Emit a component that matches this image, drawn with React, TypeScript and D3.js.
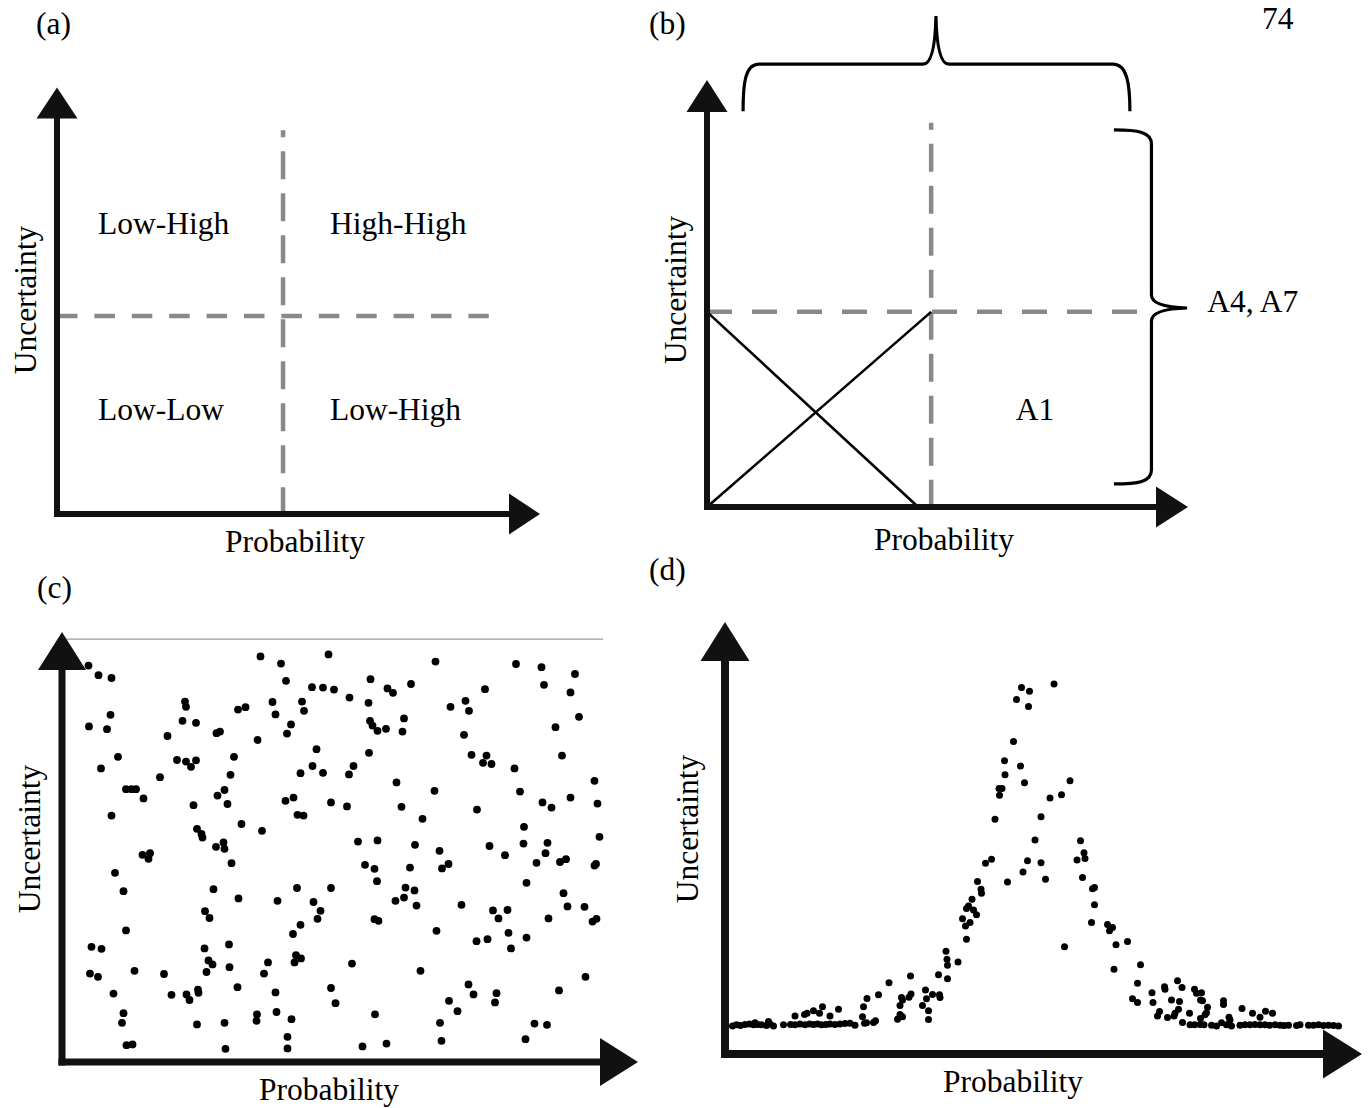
import * as d3 from 'd3'
import { useEffect, useRef } from 'react'

const W = 1368
const H = 1108
const FONT = '"Liberation Serif", "Times New Roman", Times, serif'
const FONT_SIZE = 31.5
const INK = '#111'
const DASH = '#898989'

// (a) quadrant split, axis units 0..10
const quadSplitA = { x: 4.68, y: 4.64, top: 9.0, right: 8.94 }
const quadLabels = [
  { text: 'Low-High', col: 0, row: 0 },
  { text: 'High-High', col: 1, row: 0 },
  { text: 'Low-Low', col: 0, row: 1 },
  { text: 'Low-High', col: 1, row: 1 },
]

// (b) quadrant split + crossing lines
const quadSplitB = { x: 4.66, y: 4.57, top: 9.0, right: 9.13 }
const crossLines: [number, number, number, number][] = [
  [0, 4.57, 4.39, 0],
  [0, 0, 4.66, 4.57],
]

// (c) uniform scatter [probability, uncertainty]
const uniformPoints: [number, number][] = [
  [5.3, 99.1], [7.3, 96.7], [9.9, 96.0], [9.7, 86.8], [5.4, 83.9], [9.0, 83.2], [11.2, 76.3], [7.8, 73.4],
  [12.8, 68.2], [13.9, 68.2], [14.8, 68.2], [16.3, 65.9], [9.9, 61.6], [19.6, 71.2], [21.1, 81.5], [24.6, 90.1],
  [24.8, 88.8], [24.1, 85.3], [26.8, 84.8], [23.0, 75.5], [24.8, 75.1], [25.8, 73.8], [26.8, 75.4], [26.3, 64.2],
  [27.0, 58.3], [27.9, 57.0], [28.1, 56.1], [30.8, 53.8], [32.3, 54.9], [32.5, 53.3], [30.9, 82.2], [31.6, 82.6],
  [34.4, 76.3], [33.7, 71.8], [32.5, 68.0], [31.1, 66.6], [33.1, 64.5], [35.9, 59.5], [40.0, 57.8], [35.2, 88.1],
  [36.7, 88.7], [39.1, 80.5], [39.7, 101.4], [43.8, 99.6], [44.8, 95.3], [42.1, 90.0], [42.7, 86.9], [45.8, 84.4],
  [45.0, 82.1], [48.0, 90.1], [48.4, 87.8], [50.0, 93.7], [52.2, 93.6], [53.3, 101.9], [50.9, 78.2], [50.1, 74.0],
  [47.7, 72.2], [52.2, 72.3], [44.7, 65.3], [46.3, 66.1], [47.1, 61.8], [48.3, 61.6], [53.8, 64.9],
  [54.4, 93.1], [57.5, 91.1], [61.7, 95.7], [61.3, 89.8], [65.1, 93.4], [66.2, 92.3], [69.8, 94.5], [74.7, 100.1],
  [61.6, 85.3], [62.1, 84.1], [63.1, 82.8], [64.8, 83.3], [68.4, 85.9], [68.1, 82.6], [61.4, 77.3], [58.3, 74.0],
  [57.4, 71.9], [66.9, 69.9], [74.5, 67.8], [57.0, 63.9], [67.9, 63.8], [72.1, 60.8], [59.2, 55.1], [63.1, 55.4],
  [70.6, 54.3], [75.5, 52.8], [77.7, 88.8], [80.7, 90.3], [81.4, 87.8], [84.6, 93.2], [80.4, 81.8], [81.9, 76.8],
  [84.9, 76.6], [84.2, 74.8], [85.9, 74.5], [90.5, 73.4], [83.0, 63.1], [85.5, 54.0], [90.8, 99.5], [95.9, 98.7],
  [96.4, 94.3], [102.6, 97.0], [101.7, 92.4], [103.4, 86.3], [98.7, 83.7], [100.0, 76.6], [91.6, 67.6], [96.1, 64.9],
  [97.9, 63.6], [101.7, 66.1], [106.5, 70.3], [107.1, 64.6], [92.4, 58.8], [92.3, 54.6], [97.1, 54.8], [107.5, 56.3],
  [16.1, 51.8], [17.6, 52.2], [17.3, 50.8], [33.9, 49.7], [10.6, 47.3], [12.3, 42.7], [30.3, 43.2], [35.3, 40.9],
  [43.1, 40.3], [47.0, 43.5], [50.3, 40.0], [51.7, 37.8], [51.1, 35.8], [47.7, 34.3], [46.2, 32.0], [53.8, 43.5],
  [28.6, 37.7], [29.5, 36.0], [12.8, 32.9], [5.9, 28.8], [7.9, 28.3], [28.5, 28.4], [33.4, 29.4], [29.3, 25.4],
  [30.1, 24.4], [28.9, 22.5], [33.5, 23.7], [46.8, 26.7], [47.8, 25.9], [46.5, 24.9], [41.2, 24.9], [40.4, 22.1],
  [5.6, 22.1], [7.2, 21.3], [14.5, 22.8], [20.4, 22.0], [10.3, 17.1], [21.9, 16.8], [24.9, 16.9], [25.5, 15.5],
  [27.2, 18.1], [27.3, 17.3], [35.1, 18.7], [42.7, 17.4], [12.3, 12.2], [12.0, 9.8], [27.0, 9.4], [32.5, 9.8],
  [39.0, 11.9], [38.9, 10.3], [42.9, 12.5], [45.9, 10.7], [45.1, 6.3], [45.1, 3.4], [12.9, 4.2], [14.1, 4.4],
  [32.7, 3.3], [53.8, 18.5],
  [60.6, 49.3], [62.5, 48.3], [69.6, 48.6], [76.0, 48.4], [77.3, 49.5], [88.6, 51.7], [94.9, 49.8], [96.7, 52.2],
  [99.6, 50.0], [100.8, 50.7], [106.5, 49.1], [106.8, 49.5], [63.0, 45.2], [68.7, 43.6], [70.5, 42.9], [68.4, 41.1],
  [66.7, 40.3], [70.9, 39.1], [79.9, 39.3], [92.9, 44.8], [100.3, 42.2], [101.1, 38.9], [104.5, 38.8], [86.2, 37.9],
  [89.1, 38.0], [87.3, 35.9], [97.3, 35.9], [106.1, 35.1], [106.9, 35.8], [62.5, 35.7], [63.3, 35.3], [74.9, 32.8],
  [82.9, 30.2], [85.1, 30.7], [89.3, 32.3], [92.9, 31.1], [89.8, 28.4], [58.0, 24.6], [71.7, 22.8], [54.7, 14.7],
  [81.3, 19.4], [82.3, 16.9], [86.9, 17.2], [86.6, 14.9], [77.4, 15.3], [79.1, 12.7], [99.4, 17.9], [104.7, 21.3],
  [62.6, 11.9], [75.6, 9.8], [94.5, 9.6], [97.0, 9.3], [60.1, 3.9], [64.9, 4.6], [75.9, 5.3], [92.7, 5.7],
]

// (d) peaked scatter [probability, uncertainty]
const peakPoints: [number, number][] = [
  [59.3, 91.6], [60.9, 90.7], [58.3, 88.6], [60.7, 86.9], [65.8, 92.5], [57.7, 78.1], [55.9, 73.3], [59.1, 72.0],
  [56.0, 69.8], [59.9, 67.8], [54.8, 66.4], [55.4, 66.4], [54.9, 64.7], [54.0, 58.7], [63.2, 59.3], [62.0, 53.5],
  [52.1, 47.7], [53.3, 48.7], [60.5, 48.3], [63.2, 47.8], [59.6, 45.5], [69.0, 68.3], [67.3, 64.8], [65.0, 64.0],
  [71.1, 53.3], [71.8, 50.3], [72.0, 48.9], [70.4, 48.5], [56.5, 43.0], [50.5, 43.1], [51.2, 41.2], [51.3, 40.2],
  [49.4, 38.7], [48.3, 36.4], [48.7, 37.0], [49.7, 36.0], [50.3, 34.8], [47.5, 33.8], [49.0, 32.9], [48.1, 32.0],
  [48.3, 28.7], [44.2, 25.7], [44.4, 23.7], [44.5, 22.2], [46.6, 23.0], [42.7, 19.8], [44.5, 18.8], [37.1, 19.5],
  [32.8, 17.8], [40.1, 16.0], [37.2, 15.0], [36.8, 14.2], [35.3, 14.1], [35.5, 13.5], [41.5, 14.9], [42.9, 14.8],
  [43.0, 14.1], [40.3, 13.8], [39.5, 12.1], [40.7, 10.8], [40.7, 8.6], [35.0, 12.1], [35.0, 9.9], [35.5, 9.3],
  [34.5, 8.7], [30.7, 14.8], [28.4, 13.9], [27.7, 11.8], [27.5, 9.3], [27.9, 7.7], [28.3, 7.8], [29.7, 7.9],
  [30.1, 8.3], [22.7, 11.2], [21.0, 9.5], [19.5, 11.8], [18.9, 10.2], [17.7, 10.8], [16.4, 10.2], [15.9, 9.9],
  [14.0, 9.5],
  [64.1, 43.7], [71.5, 44.1], [73.5, 41.3], [73.9, 41.6], [73.9, 37.3], [73.3, 32.9], [76.5, 32.4], [77.5, 31.6],
  [76.9, 30.8], [67.9, 26.8], [78.2, 27.3], [80.5, 28.1], [77.8, 21.2], [83.1, 22.3], [82.5, 17.7], [81.5, 13.8],
  [82.5, 12.9], [85.4, 15.3], [85.6, 12.9], [87.9, 16.8], [88.0, 16.2], [90.5, 18.3], [91.4, 16.6], [89.3, 13.5],
  [90.9, 13.1], [90.7, 11.2], [86.9, 10.6], [86.5, 9.5], [88.5, 9.1], [89.8, 9.5], [90.0, 10.2], [92.9, 10.2],
  [91.5, 7.9], [93.9, 16.2], [94.3, 15.2], [95.3, 15.3], [95.1, 13.5], [95.5, 13.3], [96.5, 11.7], [96.3, 10.3],
  [96.0, 9.8], [95.1, 8.9], [99.7, 13.3], [99.7, 12.4], [103.4, 11.4], [105.5, 10.2], [108.1, 10.7], [109.5, 10.2],
  [107.0, 9.2], [100.8, 9.2], [101.0, 8.5],
  [1.5, 7.0], [2.3, 7.3], [3.1, 7.1], [4.0, 7.4], [4.9, 7.5], [5.7, 7.3], [6.0, 7.8], [6.5, 7.4], [7.3, 7.3],
  [8.3, 7.1], [8.7, 8.1], [9.0, 7.5], [9.7, 7.0],
  [11.7, 7.3], [13.1, 7.4], [14.0, 7.3], [15.0, 7.5], [16.0, 7.3], [16.9, 7.5], [17.7, 7.4], [18.5, 7.5],
  [19.3, 7.3], [20.2, 7.4], [21.0, 7.5], [22.0, 7.4], [23.0, 7.5], [24.0, 7.6], [25.0, 7.7], [26.0, 7.2],
  [93.0, 7.3], [93.9, 7.3], [95.0, 7.4], [95.8, 7.3], [97.3, 7.2], [98.3, 7.0], [99.3, 7.8], [100.3, 7.3],
  [101.3, 7.0], [103.0, 7.2], [104.0, 7.3], [105.0, 7.3], [106.0, 7.4], [107.0, 7.3], [108.0, 7.3], [108.9, 7.2],
  [110.0, 7.3], [111.0, 7.2], [111.8, 7.1], [112.7, 7.2], [114.3, 7.1], [115.0, 7.3], [116.7, 7.2], [117.7, 7.2],
  [118.7, 7.3], [119.7, 7.1], [120.7, 7.2], [121.7, 7.1], [122.7, 7.0],
]

type Scale = d3.ScaleLinear<number, number>
type Sel = d3.Selection<SVGGElement, unknown, null, undefined>

interface AxisStyle {
  stroke: number
  len: number
  half: number
}

function drawAxes(g: Sel, x: Scale, y: Scale, s: AxisStyle) {
  const [x0, xTip] = x.range()
  const [y0, yTip] = y.range()
  g.append('line')
    .attr('x1', x0).attr('y1', y0 + s.stroke / 2)
    .attr('x2', x0).attr('y2', yTip + s.len - 1)
    .attr('stroke', INK).attr('stroke-width', s.stroke)
  g.append('line')
    .attr('x1', x0 - s.stroke / 2).attr('y1', y0)
    .attr('x2', xTip - s.len + 1).attr('y2', y0)
    .attr('stroke', INK).attr('stroke-width', s.stroke)
  g.append('path')
    .attr('d', `M${x0},${yTip}L${x0 + s.half},${yTip + s.len}L${x0 - s.half},${yTip + s.len}Z`)
    .attr('fill', INK)
  g.append('path')
    .attr('d', `M${xTip},${y0}L${xTip - s.len},${y0 - s.half}L${xTip - s.len},${y0 + s.half}Z`)
    .attr('fill', INK)
}

function label(g: Sel, text: string, x: number, y: number, anchor = 'start') {
  return g.append('text')
    .attr('x', x).attr('y', y)
    .attr('text-anchor', anchor)
    .attr('font-family', FONT)
    .attr('font-size', FONT_SIZE)
    .attr('fill', '#000')
    .text(text)
}

function vLabel(g: Sel, text: string, x: number, y: number) {
  g.append('text')
    .attr('transform', `translate(${x},${y}) rotate(-90)`)
    .attr('text-anchor', 'middle')
    .attr('font-family', FONT)
    .attr('font-size', FONT_SIZE)
    .attr('fill', '#000')
    .text(text)
}

function quadDashes(g: Sel, x: Scale, y: Scale, q: typeof quadSplitA, hDash: string) {
  g.append('line')
    .attr('x1', x(0)).attr('x2', x(q.right))
    .attr('y1', y(q.y)).attr('y2', y(q.y))
    .attr('stroke', DASH).attr('stroke-width', 4.5)
    .attr('stroke-dasharray', hDash)
  g.append('line')
    .attr('x1', x(q.x)).attr('x2', x(q.x))
    .attr('y1', y(q.top)).attr('y2', y(0.07))
    .attr('stroke', DASH).attr('stroke-width', 4.5)
    .attr('stroke-dasharray', '28 14')
    .attr('stroke-dashoffset', 21)
}

export default function App() {
  const svgRef = useRef<SVGSVGElement>(null)

  useEffect(() => {
    document.body.style.margin = '0'
    if (!svgRef.current) return
    const svg = d3.select(svgRef.current)
    svg.selectAll('*').remove()

    // ---------- (a) ----------
    const gA = svg.append('g')
    const xA = d3.scaleLinear().domain([0, 10]).range([57, 540])
    const yA = d3.scaleLinear().domain([0, 10]).range([514, 87.5])
    quadDashes(gA, xA, yA, quadSplitA, '20.5 16.9')
    drawAxes(gA, xA, yA, { stroke: 6, len: 31, half: 20.5 })
    const labelX = [0.85, 5.65]
    const labelY = [6.56, 2.2]
    quadLabels.forEach(d => label(gA, d.text, xA(labelX[d.col]), yA(labelY[d.row])))
    label(gA, '(a)', 36, 34)
    label(gA, 'Probability', 225, 552)
    vLabel(gA, 'Uncertainty', 35.5, 300)

    // ---------- (b) ----------
    const gB = svg.append('g')
    const xB = d3.scaleLinear().domain([0, 10]).range([707, 1188])
    const yB = d3.scaleLinear().domain([0, 10]).range([507, 80])
    quadDashes(gB, xB, yB, quadSplitB, '25 20')
    gB.selectAll('.cross')
      .data(crossLines)
      .enter()
      .append('line')
      .attr('x1', d => xB(d[0])).attr('y1', d => yB(d[1]))
      .attr('x2', d => xB(d[2])).attr('y2', d => yB(d[3]))
      .attr('stroke', '#000').attr('stroke-width', 2.6)
    drawAxes(gB, xB, yB, { stroke: 6, len: 32, half: 20.5 })

    // top brace
    const bl = xB(0.75), br = xB(8.73), bm = xB(4.76)
    const yLeg = yB(9.27), yBar = yB(10.37), yCusp = yB(11.5)
    gB.append('path')
      .attr('d',
        `M${bl},${yLeg}C${bl},${yLeg - 28} ${bl + 2},${yBar} ${bl + 16},${yBar}` +
        `L${bm - 13},${yBar}Q${bm - 1},${yBar} ${bm},${yCusp}` +
        `Q${bm + 1},${yBar} ${bm + 13},${yBar}` +
        `L${br - 14},${yBar}C${br},${yBar} ${br + 3},${yLeg - 28} ${br + 3},${yLeg}`)
      .attr('fill', 'none').attr('stroke', '#000').attr('stroke-width', 3.2)

    // right brace
    const re = xB(8.46), rs = xB(9.24), rp = xB(9.98)
    const rt = yB(8.83), rb = yB(0.54), rc = yB(4.66)
    gB.append('path')
      .attr('d',
        `M${re},${rt}C${re + 24},${rt} ${rs},${rt + 2} ${rs},${rt + 14}` +
        `L${rs},${rc - 13}Q${rs},${rc - 1} ${rp},${rc}` +
        `Q${rs},${rc + 1} ${rs},${rc + 13}` +
        `L${rs},${rb - 14}C${rs},${rb - 2} ${re + 24},${rb} ${re},${rb}`)
      .attr('fill', 'none').attr('stroke', '#000').attr('stroke-width', 3.2)

    label(gB, 'A1', xB(6.42), yB(2.04))
    label(gB, 'A4, A7', xB(10.4), yB(4.57))
    label(gB, '(b)', 649, 34)
    label(gB, '74', 1262, 29)
    label(gB, 'Probability', 874, 550)
    vLabel(gB, 'Uncertainty', 686, 290)

    // ---------- (c) ----------
    const gC = svg.append('g')
    const xC = d3.scaleLinear().domain([0, 115.2]).range([62, 638])
    const yC = d3.scaleLinear().domain([0, 107.5]).range([1062, 632])
    gC.append('line')
      .attr('x1', xC(1)).attr('x2', xC(108.2))
      .attr('y1', yC(105.7)).attr('y2', yC(105.7))
      .attr('stroke', '#9a9a9a').attr('stroke-width', 1.2)
    gC.selectAll('.dot')
      .data(uniformPoints)
      .enter()
      .append('circle')
      .attr('cx', d => xC(d[0]))
      .attr('cy', d => yC(d[1]))
      .attr('r', 3.9)
      .attr('fill', '#000')
    drawAxes(gC, xC, yC, { stroke: 7, len: 38, half: 24 })
    label(gC, '(c)', 37, 598)
    label(gC, 'Probability', 259, 1100)
    vLabel(gC, 'Uncertainty', 40, 839)

    // ---------- (d) ----------
    const gD = svg.append('g')
    const xD = d3.scaleLinear().domain([0, 127.4]).range([725, 1362])
    const yD = d3.scaleLinear().domain([0, 108]).range([1054, 622])
    gD.selectAll('.dot')
      .data(peakPoints)
      .enter()
      .append('circle')
      .attr('cx', d => xD(d[0]))
      .attr('cy', d => yD(d[1]))
      .attr('r', 3.5)
      .attr('fill', '#000')
    drawAxes(gD, xD, yD, { stroke: 8, len: 39, half: 24.5 })
    label(gD, '(d)', 649, 580)
    label(gD, 'Probability', 943, 1092)
    vLabel(gD, 'Uncertainty', 698, 829)
  }, [])

  return (
    <svg
      ref={svgRef}
      width={W}
      height={H}
      style={{ display: 'block', background: '#fff' }}
    />
  )
}
